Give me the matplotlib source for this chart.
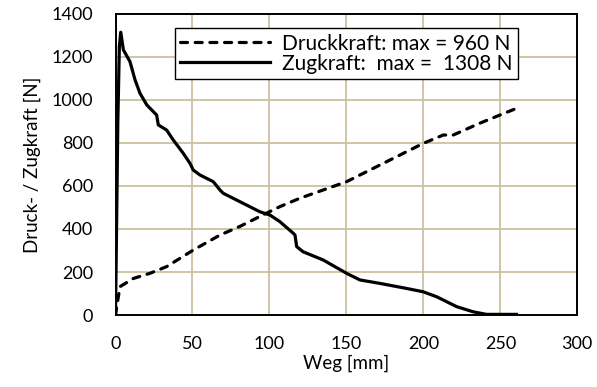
import matplotlib.pyplot as plt

plt.rcParams['font.family'] = ['Lato', 'DejaVu Sans']

# Druckkraft (gestrichelt)
druck_weg = [0, 0.8, 2.9, 11.6, 22.4, 33.2, 50.5, 67.9, 80.8, 98.2, 106.8, 119.8,
             150.1, 199.9, 212.9, 219.4, 236.7, 260.5]
druck_kraft = [0, 39, 132, 170, 194, 225, 302, 372, 412, 474, 504, 543,
               620, 798, 837, 837, 892, 961]

# Zugkraft (durchgezogen)
zug_weg = [0, 1.5, 2.5, 3.4, 5.1, 9.4, 12.7, 15.9, 20.3, 26.7, 27.8, 33.2, 37.5,
           44, 48.4, 50.5, 54.9, 63.5, 67.9, 70, 80.8, 93.8, 100.3, 106.8,
           115.5, 116.6, 117.7, 121.9, 134.9, 150.1, 158.8, 171.8, 188.8,
           199.9, 208.6, 221.6, 232.3, 241, 260.5]
zug_kraft = [0, 900, 1250, 1315, 1233, 1178, 1093, 1031, 977, 930, 884, 860, 814,
             752, 705, 674, 651, 620, 581, 566, 527, 480, 465, 434,
             380, 372, 318, 294, 256, 194, 163, 147, 124,
             108, 85, 39, 15, 3, 3]

fig = plt.figure(figsize=(5.97, 3.87), dpi=100)
ax = fig.add_axes([0.1935, 0.186, 0.7735, 0.778])

ax.plot(druck_weg, druck_kraft, color='black', lw=2.3, ls=(0, (2.2, 2.4)),
        dash_capstyle='round', label='Druckkraft: max = 960 N')
ax.plot(zug_weg, zug_kraft, color='black', lw=2.3, label='Zugkraft:  max =  1308 N')

ax.set_xlim(0, 300)
ax.set_ylim(0, 1400)
ax.set_xticks(range(0, 301, 50))
ax.set_yticks(range(0, 1401, 200))
ax.grid(True, color='#cbc19f', lw=1.3)
ax.set_axisbelow(True)
ax.tick_params(length=0, labelsize=13)
ax.tick_params(axis='x', pad=15)
ax.tick_params(axis='y', pad=16)
for s in ax.spines.values():
    s.set_linewidth(1.4)
    s.set_color('black')

ax.set_xlabel('Weg [mm]', fontsize=13.5, labelpad=2)
ax.set_ylabel('Druck- / Zugkraft [N]', fontsize=13.5, labelpad=8)

leg = ax.legend(loc='upper left', bbox_to_anchor=(0.129, 0.952), fontsize=15,
                fancybox=False, framealpha=1, edgecolor='black', handlelength=4.3,
                borderpad=0.25, labelspacing=0.0, handletextpad=0.6,
                borderaxespad=0)
leg.get_frame().set_linewidth(1.0)

fig.savefig('out.png', dpi=100)
